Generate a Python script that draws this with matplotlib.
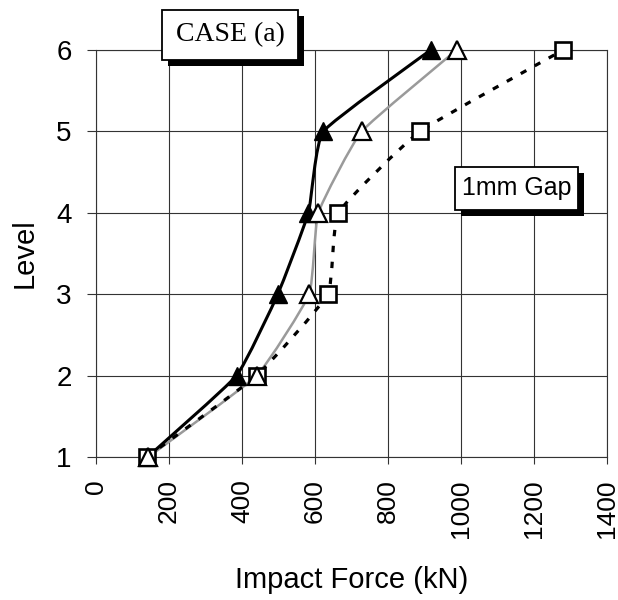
import numpy as np
import matplotlib
matplotlib.use("Agg")
import matplotlib.pyplot as plt
from matplotlib.path import Path
from matplotlib.patches import PathPatch, Rectangle

# Data
levels = [1, 2, 3, 4, 5, 6]
force_filled_tri = [141, 385, 498, 582, 623, 917]
force_open_tri = [143, 440, 584, 609, 728, 988]
force_square = [139, 440, 635, 664, 888, 1280]
x_ticks = [0, 200, 400, 600, 800, 1000, 1200, 1400]
y_ticks = [1, 2, 3, 4, 5, 6]

W, H = 618, 600


def smooth_path(x, y, k=15.0):
    # mildly smoothed line (Catmull-Rom style cubic Bezier, low tension)
    pts = np.column_stack([x, y]).astype(float)
    n = len(pts)
    verts = [pts[0]]
    codes = [Path.MOVETO]
    for i in range(n - 1):
        p0 = pts[max(i - 1, 0)]
        p1 = pts[i]
        p2 = pts[i + 1]
        p3 = pts[min(i + 2, n - 1)]
        verts += [p1 + (p2 - p0) / k, p2 - (p3 - p1) / k, p2]
        codes += [Path.CURVE4] * 3
    return Path(verts, codes)


fig = plt.figure(figsize=(W / 100, H / 100), dpi=100)
ax = fig.add_axes([96 / W, 1 - 457 / H, (607 - 96) / W, (457 - 50) / H])

# lines
ax.add_patch(PathPatch(smooth_path(force_open_tri, levels), fill=False,
                       edgecolor="#9a9a9a", lw=1.8, zorder=3, clip_on=False))
ax.add_patch(PathPatch(smooth_path(force_square, levels), fill=False,
                       edgecolor="black", lw=2.3, linestyle=(0, (2, 3)), zorder=3,
                       clip_on=False))
ax.add_patch(PathPatch(smooth_path(force_filled_tri, levels), fill=False,
                       edgecolor="black", lw=2.2, zorder=4, clip_on=False))

# markers (filled triangles under squares, open triangles on top)
ax.plot(force_filled_tri, levels, ls="none", marker="^", ms=13, mfc="black",
        mec="black", zorder=5, clip_on=False)
ax.plot(force_square, levels, ls="none", marker="s", ms=11.5, mfc="white",
        mec="black", mew=1.9, zorder=6, clip_on=False)
ax.plot(force_open_tri, levels, ls="none", marker="^", ms=13, mfc="white",
        mec="black", mew=1.6, zorder=7, clip_on=False)

ax.set_xlim(0, 1400)
ax.set_ylim(1, 6)
ax.set_xticks(x_ticks)
ax.set_yticks(y_ticks)
ax.grid(True, color="#333333", lw=0.8)
ax.set_axisbelow(True)
for s in ax.spines.values():
    s.set_color("#333333")
    s.set_linewidth(0.8)

font = ["Liberation Sans", "DejaVu Sans"]
ax.tick_params(axis="x", length=5, pad=11, rotation=90, labelsize=19, color="#333333")
ax.tick_params(axis="y", length=6.5, pad=11, labelsize=20, color="#333333")
for lab in ax.get_xticklabels() + ax.get_yticklabels():
    lab.set_fontfamily(font)

ax.set_xlabel("Impact Force (kN)", fontsize=21, fontfamily=font)
ax.xaxis.label.set_va("center")
ax.xaxis.set_label_coords(0.5, (457 - 580) / 407)
ax.set_ylabel("Level", fontsize=21, fontfamily=font)
ax.yaxis.label.set_va("center")
ax.yaxis.set_label_coords((25 - 96) / 511, 0.5)


def shadow_box(x0, y0, x1, y1, text, family, size):
    # x/y in image pixels (y from top)
    off = 6
    fig.add_artist(Rectangle(((x0 + off) / W, 1 - (y1 + off) / H),
                             (x1 - x0) / W, (y1 - y0) / H,
                             transform=fig.transFigure, facecolor="black",
                             edgecolor="none", zorder=10))
    fig.add_artist(Rectangle((x0 / W, 1 - y1 / H), (x1 - x0) / W, (y1 - y0) / H,
                             transform=fig.transFigure, facecolor="white",
                             edgecolor="black", lw=1.3, zorder=11))
    fig.text((x0 + x1) / 2 / W, 1 - (y0 + y1) / 2 / H, text, ha="center",
             va="center", fontsize=size, family=family, zorder=12)


shadow_box(162, 10, 298, 60, "CASE (a)", ["Liberation Serif", "DejaVu Serif"], 20)
shadow_box(455, 167, 578, 210, "1mm Gap", font, 18)

fig.savefig("out.png", dpi=100)
